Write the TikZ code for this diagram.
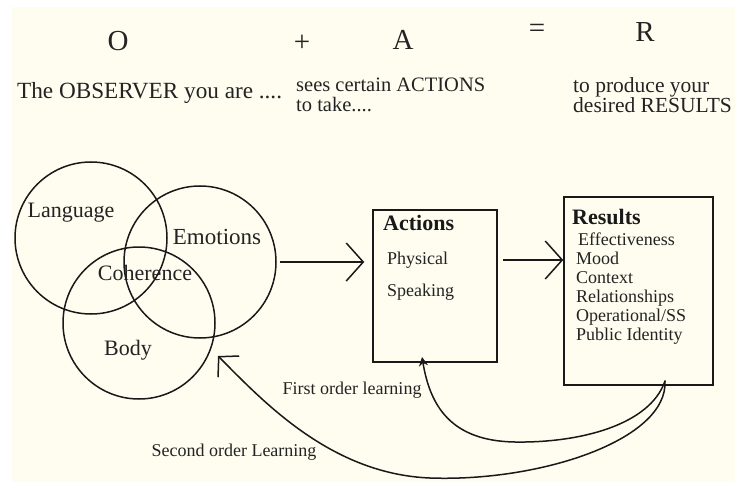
\documentclass[tikz,border=0pt]{standalone}
\usepackage{fontspec}
\setmainfont{Liberation Serif}
\usetikzlibrary{arrows.meta}
\definecolor{cream}{RGB}{254,253,240}
\definecolor{ink}{RGB}{25,25,25}
\definecolor{txt}{RGB}{35,35,35}
\tikzset{
  ring/.style={circle,draw=ink,line width=1.5pt,minimum size=152pt,inner sep=0pt},
  box/.style={rectangle,draw=ink,line width=1.5pt,inner sep=0pt},
  lbl/.style={inner sep=0pt,text=txt,font=\fontsize{22}{22}\selectfont},
  big/.style={inner sep=0pt,text=txt,font=\fontsize{29}{29}\selectfont},
  head/.style={inner sep=0pt,text=txt,font=\fontsize{20.5}{20}\selectfont,align=left},
  item/.style={inner sep=0pt,text=txt,font=\fontsize{18}{19}\selectfont,align=left},
  ttl/.style={inner sep=0pt,text=ink,font=\fontsize{22}{22}\selectfont\bfseries},
  arr/.style={draw=ink,line width=1.5pt,-{Straight Barb[length=17pt,width=38pt,line width=1.5pt]}},
  hand/.style={draw=ink,line width=1.5pt,line cap=round,line join=round}
}
\begin{document}
\begin{tikzpicture}[x=1pt,y=-1pt]
\fill[white] (0,0) rectangle (735,486);
\fill[cream] (12,7) rectangle (735,482);
\useasboundingbox (0,0) rectangle (735,486);
% top formula
\node[big] (o) at (118,41) {O};
\node[big] (plus) at (302,43) {+};
\node[big] (a) at (403,40) {A};
\node[big] (eq) at (537,31) {=};
\node[big] (r) at (645,32) {R};
\node[head,anchor=west,font=\fontsize{23.2}{20}\selectfont] (obs) at (17,93) {The OBSERVER you are ....};
\node[head,anchor=west] (act-t) at (296,95) {sees certain ACTIONS\\to take....};
\node[head,anchor=west,font=\fontsize{21.5}{20}\selectfont] (res-t) at (573,95) {to produce your\\desired RESULTS};
% circles
\node[ring] (lang) at (91,238) {};
\node[ring] (emo) at (200,262) {};
\node[ring] (body) at (139,323) {};
\node[lbl] (langl) at (71,213) {Language};
\node[lbl,font=\fontsize{23}{23}\selectfont] (emol) at (217,237) {Emotions};
\node[lbl] (coh) at (145,273) {Coherence};
\node[lbl] (bodyl) at (128,350) {Body};
% boxes
\node[box,minimum width=124pt,minimum height=152pt] (act) at (435,286) {};
\node[box,minimum width=149pt,minimum height=188pt] (res) at (638.5,291) {};
\node[ttl,anchor=west] (actl) at (383,223) {Actions};
\node[item,anchor=west] (phys) at (387,260) {Physical};
\node[item,anchor=west] (spk) at (387,292) {Speaking};
\node[ttl,anchor=west] (resl) at (572,217) {Results};
\node[item,anchor=north west] (resi) at (576,233) {\hspace{2pt}Effectiveness\\Mood\\Context\\Relationships\\Operational/SS\\Public Identity};
% arrows
\draw[arr,shorten <=3pt,shorten >=8pt] (emo.east) -- (emo.east -| act.west);
\draw[arr,shorten <=5pt] ([yshift=26pt]act.east) -- ([yshift=26pt]act.east -| res.west);
% learning loops
\coordinate (start) at (665,381);
\coordinate (tip1) at (422,357);
\coordinate (tip2) at (218,356);
\draw[hand,-{Stealth[length=9pt,width=9pt]}] (start) .. controls (650,425) and (580,443) .. (515,442)
   .. controls (450,441) and (430,405) .. (tip1);
\draw[hand,-{Straight Barb[length=14pt,width=30pt,line width=1.5pt]}] (start) .. controls (668,440) and (540,482) .. (430,478)
   .. controls (330,474) and (262,400) .. (tip2);
\node[item] (fol) at (352,390) {First order learning};
\node[item] (sol) at (234,452) {Second order Learning};
\end{tikzpicture}
\end{document}
